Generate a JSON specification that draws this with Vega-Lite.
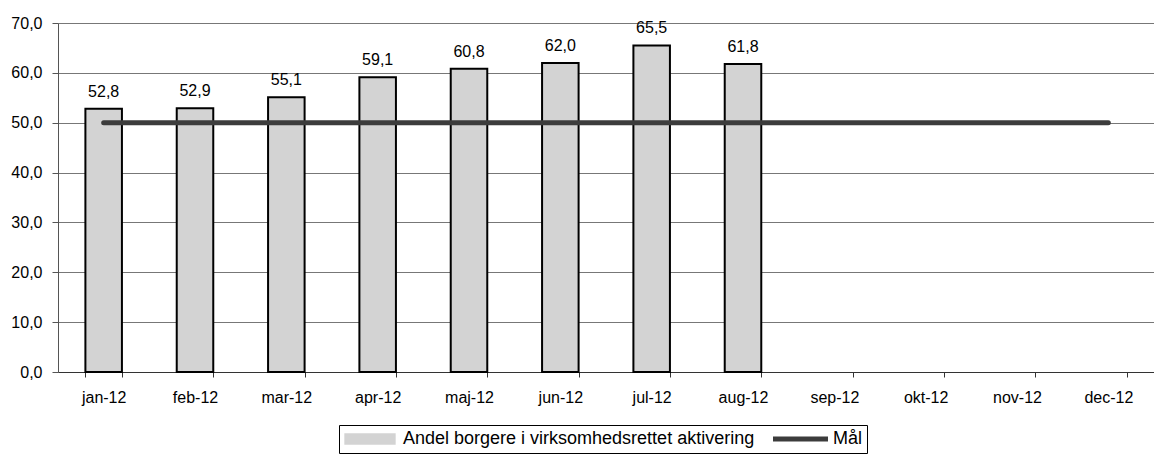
{
  "$schema": "https://vega.github.io/schema/vega-lite/v6.json",
  "autosize": "none",
  "width": 1096,
  "height": 349,
  "padding": {"left": 58, "top": 23, "right": 0, "bottom": 94},
  "background": "white",
  "config": {
    "locale": {"number": {"decimal": ",", "thousands": ".", "grouping": [3], "currency": ["", " kr."]}},
    "font": "Liberation Sans",
    "view": {"stroke": null}
  },
  "data": {
    "values": [
      {"month": "jan-12", "value": 52.8, "maal": 50},
      {"month": "feb-12", "value": 52.9, "maal": 50},
      {"month": "mar-12", "value": 55.1, "maal": 50},
      {"month": "apr-12", "value": 59.1, "maal": 50},
      {"month": "maj-12", "value": 60.8, "maal": 50},
      {"month": "jun-12", "value": 62.0, "maal": 50},
      {"month": "jul-12", "value": 65.5, "maal": 50},
      {"month": "aug-12", "value": 61.8, "maal": 50},
      {"month": "sep-12", "value": null, "maal": 50},
      {"month": "okt-12", "value": null, "maal": 50},
      {"month": "nov-12", "value": null, "maal": 50},
      {"month": "dec-12", "value": null, "maal": 50}
    ]
  },
  "encoding": {
    "x": {
      "field": "month", "type": "nominal", "sort": null,
      "scale": {"paddingInner": 0.6, "paddingOuter": 0.3},
      "axis": {
        "title": null, "labelAngle": 0, "tickBand": "extent",
        "labelFont": "Liberation Sans", "labelFontSize": 16, "labelColor": "black",
        "labelPadding": 12, "tickSize": 5, "tickColor": "#333", "domainColor": "#333",
        "grid": false
      }
    }
  },
  "layer": [
    {
      "transform": [{"filter": "datum.value != null"}],
      "mark": {"type": "bar", "stroke": "black", "strokeWidth": 2},
      "encoding": {
        "y": {
          "field": "value", "type": "quantitative",
          "scale": {"domain": [0, 70], "nice": false},
          "axis": {
            "title": null, "values": [0, 10, 20, 30, 40, 50, 60, 70], "format": ".1f",
            "labelFont": "Liberation Sans", "labelFontSize": 16, "labelColor": "black",
            "labelPadding": 10, "tickSize": 6, "tickColor": "#555", "domainColor": "#555",
            "grid": true, "gridColor": "#777", "gridWidth": 1
          }
        },
        "color": {
          "datum": "Andel borgere i virksomhedsrettet aktivering",
          "scale": {"domain": ["Andel borgere i virksomhedsrettet aktivering", "Mål"], "range": ["#d3d3d3", "#3c3c3c"]},
          "legend": {
            "title": null, "orient": "none", "direction": "horizontal",
            "legendX": 281, "legendY": 402,
            "strokeColor": "black", "padding": 4, "columnPadding": 18,
            "labelFont": "Liberation Sans", "labelFontSize": 18, "labelColor": "black", "labelLimit": 600,
            "labelOffset": 24, "symbolOffset": 18, "symbolSize": 3136, "clipHeight": 20,
            "symbolStrokeColor": "black", "symbolStrokeWidth": 1.5,
            "encoding": {
              "symbols": {
                "shape": {"value": {"expr": "datum.value === 'Mål' ? 'M-1,0H1' : 'M-0.89,-0.18H0.89V0.18H-0.89Z'"}},
                "fill": {"value": {"expr": "datum.value === 'Mål' ? 'transparent' : '#d3d3d3'"}},
                "stroke": {"value": {"expr": "datum.value === 'Mål' ? '#3c3c3c' : '#000000'"}},
                "strokeWidth": {"value": {"expr": "datum.value === 'Mål' ? 5 : 1.5"}},
                "strokeOpacity": {"value": 1},
                "fillOpacity": {"value": 1},
                "opacity": {"value": 1}
              }
            }
          }
        }
      }
    },
    {
      "transform": [{"filter": "datum.value != null"}],
      "mark": {"type": "text", "dy": -12, "baseline": "alphabetic", "font": "Liberation Sans", "fontSize": 16, "color": "black"},
      "encoding": {
        "y": {"field": "value", "type": "quantitative"},
        "text": {"field": "value", "type": "quantitative", "format": ".1f"}
      }
    },
    {
      "mark": {"type": "line", "strokeWidth": 5, "strokeCap": "round"},
      "encoding": {
        "y": {"field": "maal", "type": "quantitative"},
        "color": {"datum": "Mål"}
      }
    }
  ]
}
